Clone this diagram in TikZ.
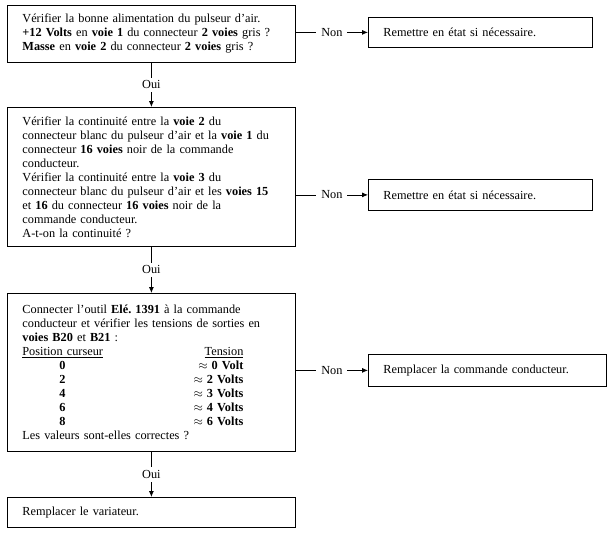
\documentclass[tikz,border=0pt]{standalone}
\usepackage{fontspec}
\setmainfont{Liberation Serif}
\usetikzlibrary{arrows.meta}
\frenchspacing
\newcommand{\ligne}[2]{\makebox[221pt][l]{\hspace*{37pt}\textbf{#1}\hfill$\approx$ \textbf{#2}}}
\tikzset{
  testbox/.style={draw, line width=0.8pt, anchor=north west, inner xsep=15pt, inner ysep=3pt,
    align=left, font=\fontsize{12.3}{14}\selectfont},
  fleche/.style={draw, line width=0.8pt, -{Latex[length=6pt,width=5pt]}},
  rep/.style={fill=white, inner xsep=5pt, inner ysep=3pt, font=\fontsize{12.3}{14}\selectfont}
}
\begin{document}
\begin{tikzpicture}[x=1pt,y=-1pt]
  \useasboundingbox (0,0) rectangle (608,558);
  % tests
  \node[testbox, text width=258pt, minimum height=57pt] (t1) at (7,5)
    {V\'erifier la bonne alimentation du pulseur d'air.\\
     \textbf{+12 Volts} en \textbf{voie 1} du connecteur \textbf{2 voies} gris ?\\
     \textbf{Masse} en \textbf{voie 2} du connecteur \textbf{2 voies} gris ?};
  \node[testbox, text width=258pt, minimum height=139pt] (t2) at (7,107)
    {V\'erifier la continuit\'e entre la \textbf{voie 2} du\\
     connecteur blanc du pulseur d'air et la \textbf{voie 1} du\\
     connecteur \textbf{16 voies} noir de la commande\\
     conducteur.\\
     V\'erifier la continuit\'e entre la \textbf{voie 3} du\\
     connecteur blanc du pulseur d'air et les \textbf{voies 15}\\
     et \textbf{16} du connecteur \textbf{16 voies} noir de la\\
     commande conducteur.\\
     A-t-on la continuit\'e ?};
  \node[testbox, text width=258pt, minimum height=158pt] (t3) at (7,293)
    {Connecter l'outil \textbf{El\'e. 1391} \`a la commande\\
     conducteur et v\'erifier les tensions de sorties en\\
     \textbf{voies B20} et \textbf{B21} :\\
     \makebox[221pt][l]{\underline{Position curseur}\hfill\underline{Tension}}\\
     \ligne{0}{0 Volt}\\
     \ligne{2}{2 Volts}\\
     \ligne{4}{3 Volts}\\
     \ligne{6}{4 Volts}\\
     \ligne{8}{6 Volts}\\
     Les valeurs sont-elles correctes ?};
  \node[testbox, text width=258pt, minimum height=30pt] (t4) at (7,497)
    {Remplacer le variateur.};
  % actions
  \node[testbox, text width=194pt, minimum height=30pt] (r1) at (368,17)
    {Remettre en \'etat si n\'ecessaire.};
  \node[testbox, text width=194pt, minimum height=31pt] (r2) at (368,179)
    {Remettre en \'etat si n\'ecessaire.};
  \node[testbox, text width=208pt, minimum height=32pt] (r3) at (368,354)
    {Remplacer la commande conducteur.};
  % liaisons
  \draw[fleche] (t1) -- node[rep] {Oui} (t2);
  \draw[fleche] (t2) -- node[rep] {Oui} (t3);
  \draw[fleche] (t3) -- node[rep] {Oui} (t4);
  \draw[fleche] (t1.east |- r1.west) -- node[rep] {Non} (r1.west);
  \draw[fleche] (t2.east |- r2.west) -- node[rep] {Non} (r2.west);
  \draw[fleche] (t3.east |- r3.west) -- node[rep] {Non} (r3.west);
\end{tikzpicture}
\end{document}
